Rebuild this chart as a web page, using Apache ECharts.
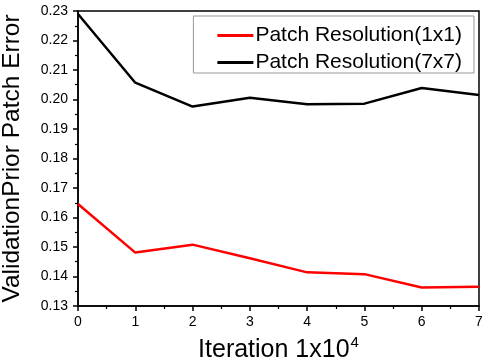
<!DOCTYPE html>
<html>
<head>
<meta charset="utf-8">
<script src="https://cdn.jsdelivr.net/npm/echarts@6/dist/echarts.min.js"></script>
<style>
  html, body { margin: 0; padding: 0; background: #fff; }
  #chart { width: 490px; height: 360px; }
</style>
</head>
<body>
<div id="chart"></div>
<script>
// iteration in units of 1x10^4
const iterations = [0, 1, 2, 3, 4, 5, 6, 7]
const error1x1 = [0.1646, 0.1481, 0.1508, 0.1462, 0.1414, 0.1408, 0.1363, 0.1365]
const error7x7 = [0.2290, 0.2057, 0.1976, 0.2006, 0.1984, 0.1986, 0.2039, 0.2015]
const seriesNames = ['Patch Resolution(1x1)', 'Patch Resolution(7x7)']

const toPairs = (ys) => iterations.map((x, i) => [x, ys[i]])

const chart = echarts.init(document.getElementById('chart'))
chart.setOption({
  animation: false,
  grid: { left: 78, right: 11, top: 11, bottom: 54, outerBoundsMode: 'none' },
  legend: {
    right: 16,
    top: 16,
    orient: 'vertical',
    itemWidth: 36,
    itemHeight: 3,
    itemGap: 6,
    padding: [9, 12, 0, 24],
    borderColor: '#999',
    borderWidth: 1,
    icon: 'rect',
    textStyle: { fontFamily: 'Liberation Sans', fontSize: 21, lineHeight: 20, color: '#000', padding: [0, 0, 0, -3] },
    data: seriesNames
  },
  xAxis: {
    type: 'value',
    min: 0,
    max: 7,
    interval: 1,
    name: '{a|Iteration 1x10}{s|4}',
    nameLocation: 'middle',
    nameGap: 29,
    nameTextStyle: {
      rich: {
        a: { fontFamily: 'Liberation Sans', fontSize: 25, color: '#000', verticalAlign: 'bottom', lineHeight: 28 },
        s: { fontFamily: 'Liberation Sans', fontSize: 15, color: '#000', verticalAlign: 'top', lineHeight: 28, padding: [0, 0, 14, 1] }
      }
    },
    axisLine: { lineStyle: { color: '#000', width: 1.5 } },
    axisTick: { length: 5, lineStyle: { color: '#000', width: 1.5 } },
    minorTick: { show: true, splitNumber: 2, length: 3, lineStyle: { color: '#000', width: 1.2 } },
    axisLabel: { fontFamily: 'Liberation Sans', fontSize: 14, color: '#000', margin: 9 },
    splitLine: { show: false }
  },
  yAxis: {
    type: 'value',
    min: 0.13,
    max: 0.23,
    interval: 0.01,
    name: 'ValidationPrior Patch Error',
    nameLocation: 'middle',
    nameGap: 53,
    nameTextStyle: { fontFamily: 'Liberation Sans', fontSize: 24.5, color: '#000' },
    axisLine: { lineStyle: { color: '#000', width: 1.5 } },
    axisTick: { length: 5, lineStyle: { color: '#000', width: 1.5 } },
    minorTick: { show: true, splitNumber: 2, length: 3, lineStyle: { color: '#000', width: 1.2 } },
    axisLabel: {
      fontFamily: 'Liberation Sans', fontSize: 14, color: '#000', margin: 10,
      formatter: (v) => v.toFixed(2)
    },
    splitLine: { show: false }
  },
  graphic: [{
    type: 'rect',
    shape: { x: 78, y: 11, width: 401, height: 295 },
    style: { fill: 'none', stroke: '#000', lineWidth: 1.5 },
    silent: true
  }],
  series: [
    {
      name: seriesNames[0],
      type: 'line',
      data: toPairs(error1x1),
      showSymbol: false,
      symbol: 'none',
      lineStyle: { color: '#ff0000', width: 2.5 },
      itemStyle: { color: '#ff0000' }
    },
    {
      name: seriesNames[1],
      type: 'line',
      data: toPairs(error7x7),
      showSymbol: false,
      symbol: 'none',
      lineStyle: { color: '#000', width: 2.5 },
      itemStyle: { color: '#000' }
    }
  ]
})
</script>
</body>
</html>
